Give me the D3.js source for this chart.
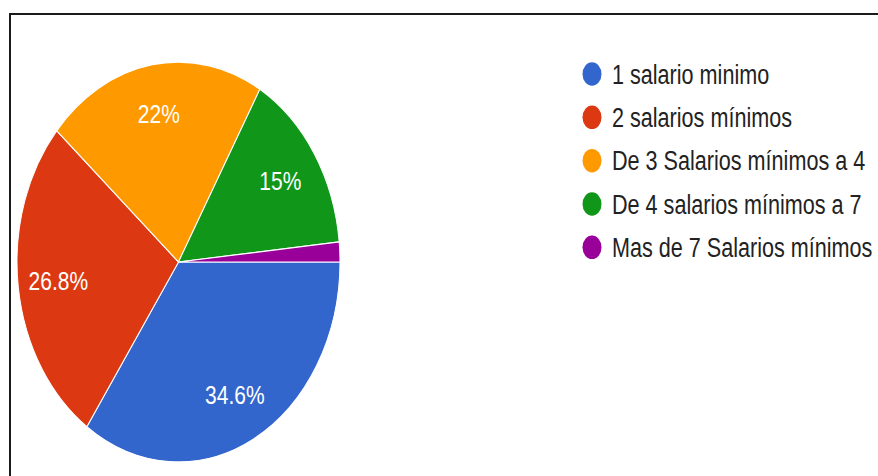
<!DOCTYPE html>
<html>
<head>
<meta charset="utf-8">
<script src="https://cdn.jsdelivr.net/npm/d3@7"></script>
<style>
    body { margin: 0; background: #fff; }
    text { font-family: "Liberation Sans", Arial, sans-serif; }
</style>
</head>
<body>
<script>
// categories and slice values (percent)
var categories = ["1 salario minimo", "2 salarios mínimos", "De 3 Salarios mínimos a 4",
    "De 4 salarios mínimos a 7", "Mas de 7 Salarios mínimos"];
var values = [34.6, 26.8, 22, 15, 1.6];
var labels = ["34.6%", "26.8%", "22%", "15%", ""];
var colors = ["#3366cc", "#dc3912", "#ff9900", "#109618", "#990099"];

var width = 878, height = 476;
var stretch = 1.238;   // the picture is squeezed taller than wide
var radius = 161.5;
var cx = 178.5, cy = 262;

var svg = d3.select("body").append("svg")
    .attr("width", width)
    .attr("height", height);

// frame: only top and left edges are visible
svg.append("line")
    .attr("x1", 9).attr("y1", 14).attr("x2", width).attr("y2", 14)
    .attr("stroke", "#1a1a1a").attr("stroke-width", 2);
svg.append("line")
    .attr("x1", 10).attr("y1", 13).attr("x2", 10).attr("y2", height)
    .attr("stroke", "#1a1a1a").attr("stroke-width", 2);

var pie = d3.pie()
    .sort(null)
    .startAngle(Math.PI / 2)
    .endAngle(Math.PI / 2 + 2 * Math.PI);

var arc = d3.arc().innerRadius(0).outerRadius(radius);
var labelArc = d3.arc().innerRadius(radius * 0.75).outerRadius(radius * 0.75);

var g = svg.append("g")
    .attr("transform", "translate(" + cx + "," + cy + ") scale(1," + stretch + ")");

var slices = pie(values);

g.selectAll("path")
    .data(slices)
    .enter()
    .append("path")
    .attr("d", arc)
    .attr("fill", function(d, i) { return colors[i]; })
    .attr("stroke", "#fff")
    .attr("stroke-width", 1);

g.selectAll("text")
    .data(slices)
    .enter()
    .append("text")
    .attr("transform", function(d) {
        var c = labelArc.centroid(d);
        return "translate(" + c[0] + "," + c[1] + ")";
    })
    .attr("text-anchor", "middle")
    .attr("dy", "0.36em")
    .attr("fill", "#fff")
    .style("font-size", "21px")
    .text(function(d, i) { return labels[i]; });

// legend
var legend = svg.append("g")
    .attr("transform", "translate(592,74)");

var rowY = d3.scalePoint()
    .domain(categories)
    .range([0, 4 * 35])
    .padding(0);

var rows = legend.selectAll("g")
    .data(categories)
    .enter()
    .append("g")
    .attr("transform", function(d) {
        return "translate(0," + (rowY(d) * stretch) + ") scale(1," + stretch + ")";
    });

rows.append("circle")
    .attr("r", 9.5)
    .attr("fill", function(d, i) { return colors[i]; });

rows.append("text")
    .attr("x", 20)
    .attr("dy", "0.36em")
    .attr("fill", "#222")
    .style("font-size", "21.6px")
    .text(function(d) { return d; });
</script>
</body>
</html>
